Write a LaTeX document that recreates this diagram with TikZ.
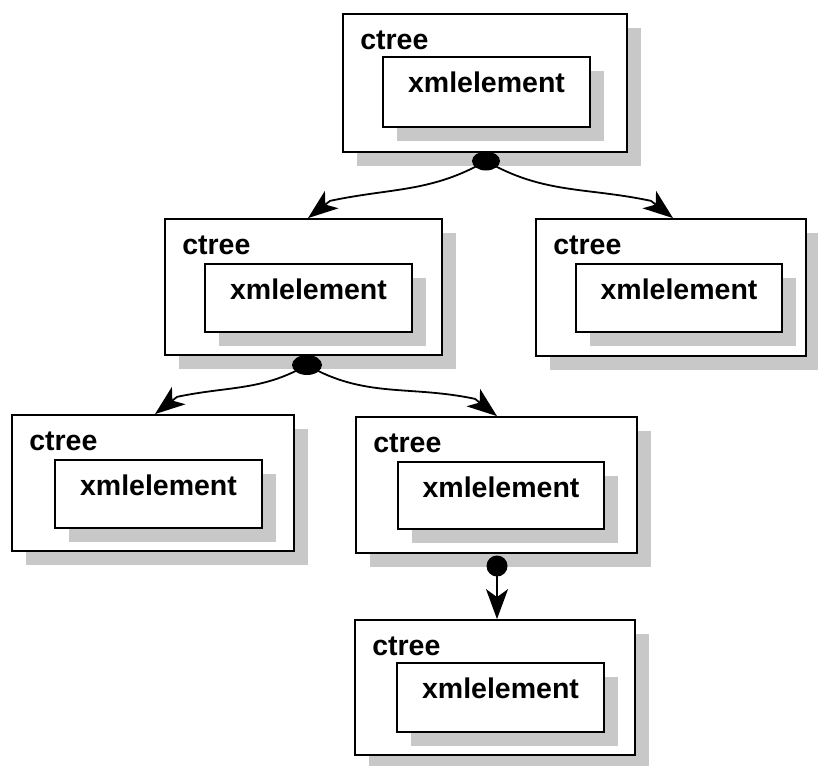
\documentclass[tikz,border=0pt]{standalone}
\usepackage{fontspec}
\setmainfont{Liberation Sans}
\usetikzlibrary{shadows,arrows.meta,shapes.geometric,calc}
\definecolor{shgray}{RGB}{200,200,200}
\begin{document}
\begin{tikzpicture}[x=1pt,y=1pt,
  font=\fontsize{28.5}{30}\selectfont\bfseries,
  shd/.style={drop shadow={shadow xshift=14pt, shadow yshift=-14pt, fill=shgray, opacity=1}},
  outerbox/.style={draw, line width=1.8pt, fill=white, shd, inner sep=0pt, rectangle,
     label={[anchor=base west, xshift=18pt, yshift=-36pt, inner sep=0pt]north west:ctree}},
  innerbox/.style={draw, line width=1.8pt, fill=white, shd, inner sep=0pt, rectangle,
     label={[anchor=base, yshift=-36pt, inner sep=0pt]north:xmlelement}},
  blob/.style={ellipse, fill=black, inner sep=0pt},
  conn/.style={line width=1.8pt, -{Stealth[length=30pt,width=22pt,inset=8pt]}}
]
\useasboundingbox (0,0) rectangle (818,-765);
% boxes
\node[outerbox, minimum width=284pt, minimum height=138pt] (o1) at (485,-83) {};
\node[innerbox, minimum width=207pt, minimum height=70pt] (i1) at (486.5,-92) {};
\node[outerbox, minimum width=277pt, minimum height=136pt] (o2) at (303.5,-287) {};
\node[innerbox, minimum width=207pt, minimum height=68pt] (i2) at (308.5,-298) {};
\node[outerbox, minimum width=270pt, minimum height=137pt] (o3) at (671,-287.5) {};
\node[innerbox, minimum width=206pt, minimum height=68pt] (i3) at (679,-298) {};
\node[outerbox, minimum width=282pt, minimum height=136pt] (o4) at (153,-483) {};
\node[innerbox, minimum width=207pt, minimum height=68pt] (i4) at (158.5,-494) {};
\node[outerbox, minimum width=281pt, minimum height=136pt] (o5) at (496.5,-485) {};
\node[innerbox, minimum width=206pt, minimum height=67pt] (i5) at (501,-495.5) {};
\node[outerbox, minimum width=280pt, minimum height=135pt] (o6) at (495,-687.5) {};
\node[innerbox, minimum width=207pt, minimum height=69pt] (i6) at (500.5,-697.5) {};
% dots
\node[blob, minimum width=28pt, minimum height=19pt] (d1) at (486,-161) {};
\node[blob, minimum width=30pt, minimum height=20pt] (d2) at (307,-365) {};
\node[blob, minimum width=21pt, minimum height=21pt] (d3) at (497,-566) {};
% arrow end points on the box tops
\coordinate (e2) at ([xshift=4.5pt]o2.north);
\coordinate (e3) at ([xshift=2pt]o3.north);
\coordinate (e4) at ([xshift=2pt]o4.north);
\coordinate (e5) at ([xshift=0.5pt]o5.north);
\coordinate (e6) at ([xshift=2pt]o6.north);
% connectors
\draw[conn] (d1.center) to[out=-150, in=12] ($(e2)+(38:28)$) -- (e2);
\draw[conn] (d1.center) to[out=-30, in=168] ($(e3)+(142:28)$) -- (e3);
\draw[conn] (d2.center) to[out=-150, in=12] ($(e4)+(38:28)$) -- (e4);
\draw[conn] (d2.center) to[out=-30, in=168] ($(e5)+(142:28)$) -- (e5);
\draw[conn] (d3.center) -- (e6);
\end{tikzpicture}
\end{document}
